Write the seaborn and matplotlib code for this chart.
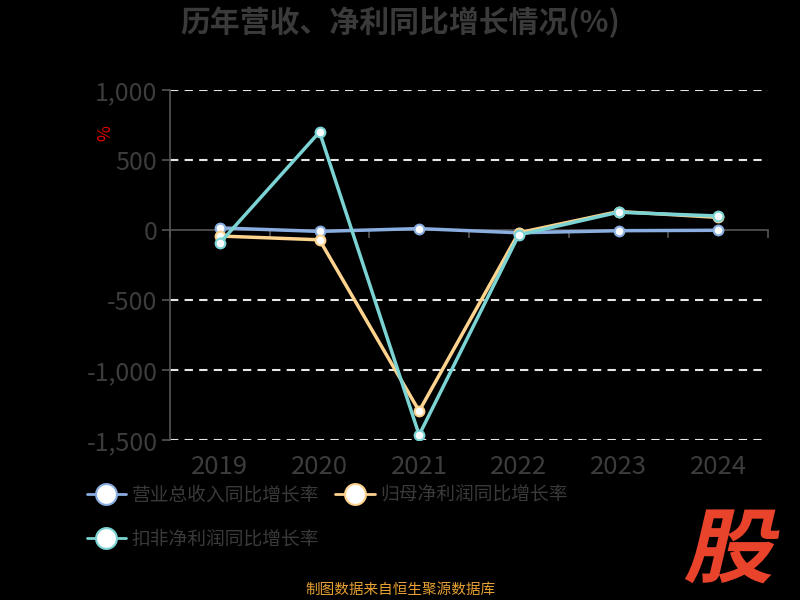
import numpy as np
import pandas as pd
import matplotlib.pyplot as plt
import seaborn as sns
from matplotlib.lines import Line2D
from matplotlib.textpath import TextPath
from matplotlib.patches import PathPatch
from matplotlib.font_manager import FontProperties
from matplotlib.transforms import Affine2D, blended_transform_factory

# 数据
years = ['2019', '2020', '2021', '2022', '2023', '2024']
yingshou = [15, -10, 10, -20, -5, -2]          # 营业总收入同比增长率
guimu = [-43, -70, -1293, -20, 132, 90]        # 归母净利润同比增长率
koufei = [-93, 700, -1464, -35, 127, 100]      # 扣非净利润同比增长率
y_ticks = [1000, 500, 0, -500, -1000, -1500]
y_labels = ['1,000', '500', '0', '-500', '-1,000', '-1,500']

names = ['营业总收入同比增长率', '归母净利润同比增长率', '扣非净利润同比增长率']
colors = ['#8aaee0', '#fdd38e', '#7bd3d3']

sns.set_style('dark', rc={'axes.facecolor': 'black', 'figure.facecolor': 'black'})
plt.rcParams['font.family'] = ['Noto Sans CJK SC', 'DejaVu Sans']
plt.rcParams['axes.unicode_minus'] = False

fig = plt.figure(figsize=(8, 6), dpi=100)
ax = fig.add_axes([170 / 800, 1 - 440 / 600, 598 / 800, 350 / 600])
ax.set_facecolor('black')

x = np.arange(len(years))
df = pd.DataFrame({'x': np.tile(x, 3),
                   'val': yingshou + guimu + koufei,
                   'series': np.repeat(names, len(years))})

# 网格线
for t in y_ticks:
    if t != 0:
        ax.axhline(t, color='#e6e6e6', lw=1.5, ls=(0, (4, 3)), zorder=1)

for i, (name, c) in enumerate(zip(names, colors)):
    sns.lineplot(data=df[df.series == name], x='x', y='val', ax=ax, color=c,
                 lw=2.5, marker='o', markersize=7, markerfacecolor='white',
                 markeredgecolor=c, markeredgewidth=1.5, zorder=3 + i)

ax.set_xlim(-0.5, 5.5)
ax.set_ylim(-1500, 1000)
ax.set_yticks(y_ticks)
ax.set_yticklabels(y_labels)
ax.tick_params(axis='y', colors='#555555', labelcolor='#3c3c3c', labelsize=18,
               length=6, width=1.2, direction='out', left=True, pad=3)

# x 轴在 0 处
ax.spines['bottom'].set_position(('data', 0))
ax.spines['bottom'].set_color('#555555')
ax.spines['bottom'].set_linewidth(1.2)
ax.spines['left'].set_color('#555555')
ax.spines['left'].set_linewidth(1.2)
ax.spines['top'].set_visible(False)
ax.spines['right'].set_visible(False)
ax.set_xticks(np.arange(-0.5, 6, 1))
ax.set_xticklabels([])
ax.tick_params(axis='x', colors='#555555', length=6, width=1.2, direction='out', bottom=True)
ax.set_xlabel('')
ax.set_ylabel('')
ax.grid(False)

trans = blended_transform_factory(ax.transData, ax.transAxes)
for xi, yr in zip(x, years):
    ax.text(xi, -0.04, yr, transform=trans, ha='center', va='top',
            fontsize=18.5, color='#3c3c3c')

ax.text(-0.108, 0.876, '%', transform=ax.transAxes, color='#e00000', fontsize=12.5,
        rotation=90, ha='center', va='center')

fig.text(0.5, 0.963, '历年营收、净利同比增长情况(%)', ha='center', va='center',
         fontsize=21.5, fontweight='bold', color='#3a3a3a')

handles = [Line2D([], [], color=c, lw=2, marker='o', markersize=15,
                  markerfacecolor='white', markeredgecolor=c, markeredgewidth=1.5)
           for c in colors]
order = [0, 2, 1]
leg = fig.legend([handles[i] for i in order], [names[i] for i in order],
                 loc='upper left', bbox_to_anchor=(0.099, 0.205), ncol=2,
                 frameon=False, fontsize=13.5, labelcolor='#3a3a3a',
                 handlelength=2.1, handletextpad=0.3, columnspacing=0.85,
                 labelspacing=1.25, borderaxespad=0)

fig.text(0.5, 0.017, '制图数据来自恒生聚源数据库', ha='center', va='center',
         fontsize=10.5, color='#e6a033')

# 股 标志
fp = FontProperties(family='Noto Sans CJK SC', weight='bold')
tp = TextPath((0, 0), '股', prop=fp, size=86)
patch = PathPatch(tp, transform=Affine2D().skew_deg(12, 0).scale(1.05, 0.95).translate(683, 24),
                  facecolor='#ea432c', edgecolor='none')
patch.set_figure(fig)
fig.patches.append(patch)

fig.savefig('out.png', dpi=100, facecolor='black')
